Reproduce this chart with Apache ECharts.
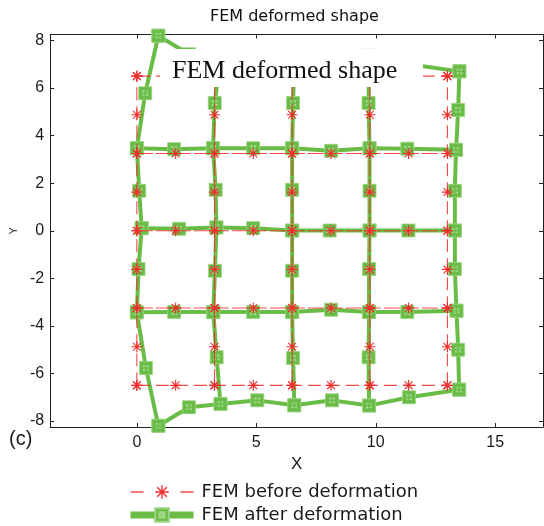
<!DOCTYPE html>
<html>
<head>
<meta charset="utf-8">
<script src="https://cdn.jsdelivr.net/npm/echarts@6/dist/echarts.min.js"></script>
<style>
  html, body { margin: 0; padding: 0; background: #fff; }
  #chart { width: 544px; height: 526px; }
</style>
</head>
<body>
<div id="chart"></div>
<script>
// Undeformed mesh: 4 x 4 eight-node elements, node coordinates along each axis
const beforeX = [0, 1.625, 3.25, 4.875, 6.5, 8.125, 9.75, 11.375, 13];
const beforeY = [-6.5, -4.875, -3.25, -1.625, 0, 1.625, 3.25, 4.875, 6.5];

// Deformed node positions, one row per mesh row (bottom to top).
// Odd rows only carry the nodes on element edges (even columns).
const afterX = [
  [0.90, 2.18, 3.50, 5.04, 6.59, 8.17, 9.72, 11.39, 13.49],
  [0.38, null, 3.34, null, 6.54, null, 9.70, null, 13.45],
  [0.00, 1.56, 3.20, 4.87, 6.50, 8.13, 9.72, 11.32, 13.38],
  [0.07, null, 3.27, null, 6.50, null, 9.72, null, 13.31],
  [0.20, 1.77, 3.33, 4.87, 6.50, 8.07, 9.74, 11.37, 13.31],
  [0.10, null, 3.30, null, 6.50, null, 9.74, null, 13.31],
  [0.00, 1.56, 3.19, 4.87, 6.50, 8.13, 9.74, 11.32, 13.36],
  [0.35, null, 3.26, null, 6.54, null, 9.70, null, 13.45],
  [0.90, 2.18, 3.50, 5.04, 6.59, 8.17, 9.72, 11.39, 13.50]
];
const afterY = [
  [-8.20, -7.42, -7.28, -7.13, -7.34, -7.13, -7.35, -7.00, -6.68],
  [-5.77, null, -5.32, null, -5.35, null, -5.32, null, -5.00],
  [-3.43, -3.42, -3.42, -3.42, -3.42, -3.32, -3.42, -3.42, -3.36],
  [-1.61, null, -1.68, null, -1.68, null, -1.61, null, -1.61],
  [0.11, 0.08, 0.14, 0.11, 0.01, 0.01, 0.01, 0.01, 0.01],
  [1.68, null, 1.72, null, 1.72, null, 1.68, null, 1.68],
  [3.47, 3.43, 3.47, 3.47, 3.47, 3.36, 3.47, 3.45, 3.40],
  [5.78, null, 5.37, null, 5.37, null, 5.37, null, 5.08],
  [8.20, 7.42, 7.28, 7.13, 7.34, 7.13, 7.35, 7.00, 6.70]
];

const xTicks = [0, 5, 10, 15];
const yTicks = [-8, -6, -4, -2, 0, 2, 4, 6, 8];
const edgeLines = [0, 2, 4, 6, 8];

const NAME_BEFORE = 'FEM before deformation';
const NAME_AFTER = 'FEM after deformation';

const RED = '#f22d2d';
const GREEN = '#69bc45';

// asterisk marker (+ and x overlaid) and square marker with small openings
const STAR = 'path://M0 9H20V11H0Z M9 0H11V20H9Z M3.64 2.22L17.78 16.36L16.36 17.78L2.22 3.64Z M17.78 3.64L3.64 17.78L2.22 16.36L16.36 2.22Z';
const SQUARE = 'path://M0 0H20V20H0Z M6 6V8.5H8.5V6Z M11.5 6V8.5H14V6Z M6 11.5V14H8.5V11.5Z M11.5 11.5V14H14V11.5Z';

const series = [];

function afterSeries(points) {
  return {
    name: NAME_AFTER,
    type: 'line',
    data: points,
    clip: false,
    z: 2,
    symbol: SQUARE,
    symbolSize: 13,
    showSymbol: true,
    lineStyle: { color: GREEN, width: 4 },
    itemStyle: { color: GREEN, borderColor: '#9bd483', borderWidth: 0.8 },
    emphasis: { disabled: true },
    animation: false
  };
}

function beforeSeries(points, outer) {
  return {
    name: NAME_BEFORE,
    type: 'line',
    data: points,
    clip: false,
    z: 3,
    symbol: STAR,
    symbolSize: 11,
    showSymbol: true,
    lineStyle: { color: RED, width: 1.1, type: outer ? [13, 6] : [16, 3], opacity: 0.85 },
    itemStyle: { color: RED },
    emphasis: { disabled: true },
    animation: false
  };
}

// deformed mesh: rows then columns
edgeLines.forEach(j => {
  const pts = [];
  afterX[j].forEach((x, i) => { if (x !== null) pts.push([x, afterY[j][i]]); });
  series.push(afterSeries(pts));
});
edgeLines.forEach(i => {
  series.push(afterSeries(afterX.map((row, j) => [row[i], afterY[j][i]])));
});

// undeformed mesh: rows then columns
edgeLines.forEach(j => {
  series.push(beforeSeries(beforeX.map(x => [x, beforeY[j]]), j === 0 || j === 8));
});
edgeLines.forEach(i => {
  series.push(beforeSeries(beforeY.map(y => [beforeX[i], y]), i === 0 || i === 8));
});

const axisFont = { fontFamily: 'Liberation Sans, Arial, sans-serif', fontSize: 16, color: '#1a1a1a' };
const boxLine = { show: true, onZero: false, lineStyle: { color: '#222', width: 1 } };

const chart = echarts.init(document.getElementById('chart'), null, { renderer: 'canvas' });
chart.setOption({
  animation: false,
  backgroundColor: '#fff',
  title: {
    text: 'FEM deformed shape',
    left: 210,
    top: 9,
    padding: 0,
    textStyle: { fontFamily: 'DejaVu Sans, sans-serif', fontSize: 16, fontWeight: 'normal', color: '#111' }
  },
  grid: { left: 49, right: 1, top: 34.5, bottom: 99, containLabel: false },
  xAxis: [
    {
      type: 'value', min: -3.63, max: 17, position: 'bottom',
      name: 'X', nameLocation: 'middle', nameGap: 27,
      nameTextStyle: { fontFamily: 'Liberation Sans, Arial, sans-serif', fontSize: 17, color: '#1a1a1a' },
      axisLine: boxLine,
      axisTick: { show: true, inside: true, length: 4, customValues: xTicks, lineStyle: { color: '#222' } },
      axisLabel: Object.assign({ customValues: xTicks, margin: 8 }, axisFont),
      splitLine: { show: false }
    },
    {
      type: 'value', min: -3.63, max: 17, position: 'top',
      axisLine: boxLine,
      axisTick: { show: true, inside: true, length: 4, customValues: xTicks, lineStyle: { color: '#222' } },
      axisLabel: { show: false },
      splitLine: { show: false }
    }
  ],
  yAxis: [
    {
      type: 'value', min: -8.25, max: 8.25, position: 'left',
      name: 'Y', nameLocation: 'middle', nameGap: 31, nameRotate: 90,
      nameTextStyle: { fontFamily: 'Liberation Sans, Arial, sans-serif', fontSize: 11, color: '#1a1a1a' },
      axisLine: boxLine,
      axisTick: { show: true, inside: true, length: 4, customValues: yTicks, lineStyle: { color: '#222' } },
      axisLabel: Object.assign({ customValues: yTicks, margin: 6 }, axisFont),
      splitLine: { show: false }
    },
    {
      type: 'value', min: -8.25, max: 8.25, position: 'right',
      axisLine: boxLine,
      axisTick: { show: true, inside: true, length: 4, customValues: yTicks, lineStyle: { color: '#222' } },
      axisLabel: { show: false },
      splitLine: { show: false }
    }
  ],
  legend: {
    orient: 'vertical',
    left: 127,
    top: 483,
    itemWidth: 63,
    itemHeight: 17,
    itemGap: 5,
    selectedMode: false,
    padding: 0,
    textStyle: { fontFamily: 'DejaVu Sans, sans-serif', fontSize: 18, color: '#1a1a1a', padding: [0, 0, 0, 3] },
    data: [
      { name: NAME_BEFORE, lineStyle: { type: [13, 37], width: 1.6, color: RED } },
      { name: NAME_AFTER, lineStyle: { width: 7, color: GREEN } }
    ]
  },
  graphic: [
    {
      type: 'rect', left: 160, top: 49, z: 100,
      shape: { width: 263, height: 38 },
      style: { fill: '#fff' }
    },
    {
      type: 'text', left: 172, top: 58, z: 101,
      style: { text: 'FEM deformed shape', font: '26px "Liberation Serif", "Times New Roman", serif', fill: '#111' }
    },
    {
      type: 'text', left: 9, top: 429, z: 101,
      style: { text: '(c)', font: '20px "Liberation Sans", Arial, sans-serif', fill: '#1a1a1a' }
    }
  ],
  series: series
});
</script>
</body>
</html>
